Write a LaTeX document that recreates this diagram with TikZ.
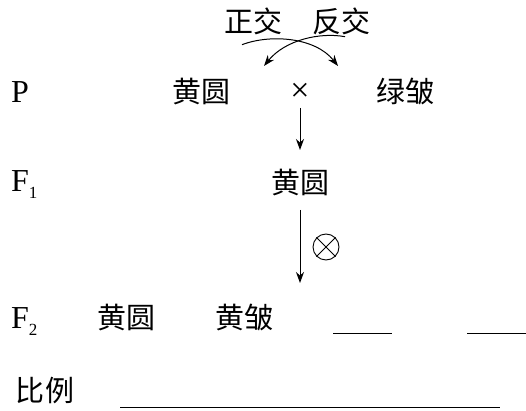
\documentclass[tikz,border=0pt]{standalone}
\usepackage{fontspec}
\setmainfont{Liberation Serif}
\newfontfamily\cjk{Noto Sans CJK SC}
\usepackage{tikz}
\usetikzlibrary{arrows, arrows.meta, positioning}

\begin{document}
\begin{tikzpicture}[
    x=1pt, y=-1pt,
    every node/.style={inner sep=0pt},
    gen/.style={font=\fontsize{32}{32}\selectfont, anchor=base west},
    pheno/.style={font=\cjk\fontsize{29}{29}\selectfont},
    link/.style={-{Stealth[length=11pt, width=8pt]}, line width=1pt},
    blank/.style={line width=0.9pt}
]
\useasboundingbox (0,0) rectangle (526,411);

% generation labels
\node[gen] (p) at (11,103) {P};
\node[gen] (f1) at (11,192) {F\raisebox{-7pt}{\fontsize{17}{17}\selectfont 1}};
\node[gen] (f2) at (11,328) {F\raisebox{-7pt}{\fontsize{17}{17}\selectfont 2}};

% P row
\node[pheno] (zheng) at (253,21) {正交};
\node[pheno] (fan) at (341,21) {反交};
\node[pheno] (yr0) at (201,92) {黄圆};
\node[font=\fontsize{34}{34}\selectfont] (cross) at (300,92) {×};
\node[pheno] (lz0) at (405,92) {绿皱};

% F1 and F2
\node[pheno] (yr1) at (300,183) {黄圆};
\node[draw, circle, minimum size=26pt, line width=0.9pt] (selfing) at (326,247) {};
\node[pheno] (yr2) at (126,318) {黄圆};
\node[pheno] (yz2) at (244,318) {黄皱};
\node[pheno] (ratio) at (45,391) {比例};

\coordinate (tipA) at (338,66);
\coordinate (tipB) at (264,66);

\draw[link] ([xshift=-11pt,yshift=-10pt]zheng.south) .. controls (270,34) and (315,37) .. (tipA);
\draw[link] ([xshift=4pt,yshift=-2pt]fan.south) .. controls (320,32) and (285,40) .. (tipB);

\draw[link, shorten <=16pt, shorten >=33pt] (cross.center) -- (yr1.center);
\draw[link, shorten <=27pt, shorten >=35pt] (yr1.center) -- (yr1 |- yr2);
\draw[line width=0.9pt] (selfing.45) -- (selfing.225) (selfing.135) -- (selfing.315);

% blanks
\draw[blank] (333,333) -- (392,333);
\draw[blank] (467,333) -- (526,333);
\draw[blank] (120,407) -- (500,407);

\end{tikzpicture}
\end{document}
